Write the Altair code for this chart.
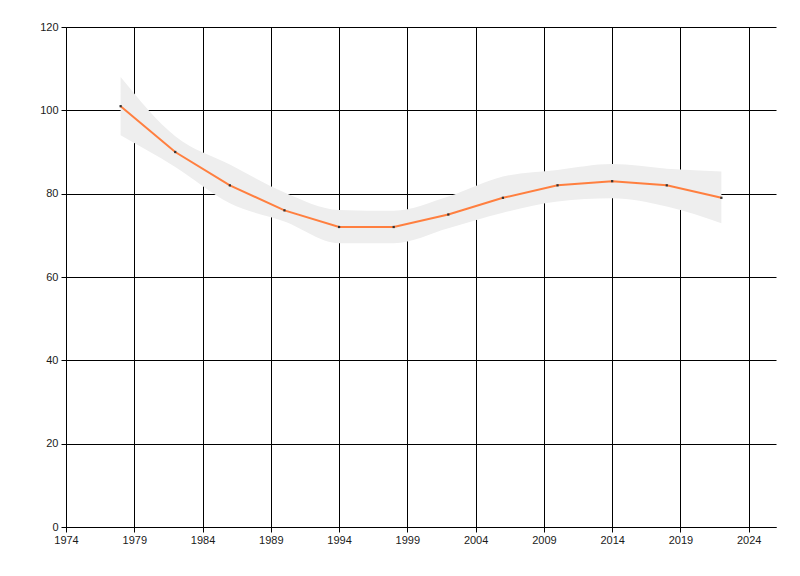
import altair as alt
import pandas as pd

years = [1978, 1982, 1986, 1990, 1994, 1998, 2002, 2006, 2010, 2014, 2018, 2022]
values = [101, 90, 82, 76, 72, 72, 75, 79, 82, 83, 82, 79]
upper = [108, 93.8, 87, 80.3, 76.1, 75.9, 79.3, 84.1, 85.7, 87.1, 86, 85.3]
lower = [94, 86.4, 77.7, 73.3, 68.1, 68.1, 71.7, 75.4, 78.1, 78.9, 76.9, 72.9]

x_ticks = list(range(1974, 2025, 5))
y_ticks = [0, 20, 40, 60, 80, 100, 120]

df = pd.DataFrame({"year": years, "value": values, "upper": upper, "lower": lower})

FONT = "Liberation Sans Narrow, Liberation Sans, Arial"

x_enc = alt.X("year:Q",
              scale=alt.Scale(domain=[1974, 2026], nice=False, zero=False),
              axis=alt.Axis(values=x_ticks, format="d", title=None,
                            grid=True, gridColor="black", gridOpacity=1, gridWidth=1,
                            domainColor="black", tickColor="black", tickSize=5,
                            labelPadding=2, labelColor="#1a1a1a", labelFont=FONT,
                            labelFontSize=11, labelFlush=False))
y_scale = alt.Scale(domain=[0, 120], nice=False)
y_axis = alt.Axis(values=y_ticks, title=None, grid=True, gridColor="black",
                  gridOpacity=1, gridWidth=1, domainColor="black", tickColor="black",
                  tickSize=5, labelPadding=3, labelColor="#1a1a1a", labelFont=FONT,
                  labelFontSize=11)

band = alt.Chart(df).mark_area(color="#eeeeee", opacity=1, interpolate="monotone").encode(
    x=x_enc,
    y=alt.Y("upper:Q", scale=y_scale, axis=y_axis),
    y2="lower:Q",
)

line = alt.Chart(df).mark_line(color="#ff7f3f", strokeWidth=2).encode(
    x="year:Q",
    y=alt.Y("value:Q", scale=y_scale),
)

pts = alt.Chart(df).mark_point(shape="square", filled=True, color="#333333", size=5, opacity=1).encode(
    x="year:Q",
    y=alt.Y("value:Q", scale=y_scale),
)

chart = alt.layer(band, line, pts).properties(
    width=710, height=500,
    autosize=alt.AutoSizeParams(type="none"),
    padding={"left": 58, "top": 19, "right": 10, "bottom": 40},
    background="white",
).configure_view(stroke="transparent", strokeOpacity=0, strokeWidth=0)

chart.save("out.html", embed_options={"renderer": "svg", "actions": False})
